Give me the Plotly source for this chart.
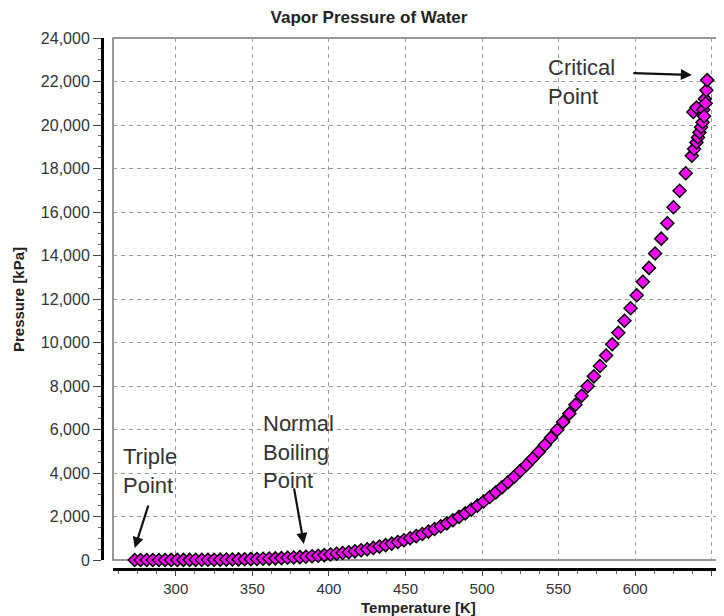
import plotly.graph_objects as go

# Temperature [K] and vapor pressure [kPa]
temperature_k = [
    273.16, 277, 281, 285, 289, 293, 297, 301, 305, 309, 313, 317, 321, 325, 329,
    333, 337, 341, 345, 349, 353, 357, 361, 365, 369, 373, 377, 381, 385, 389,
    393, 397, 401, 405, 409, 413, 417, 421, 425, 429, 433, 437, 441, 445, 449,
    453, 457, 461, 465, 469, 473, 477, 481, 485, 489, 493, 497, 501, 505, 509,
    513, 517, 521, 525, 529, 533, 537, 541, 545, 549, 553, 557, 561, 565, 569,
    573, 577, 581, 585, 589, 593, 597, 601, 605, 609, 613, 617, 621, 625, 629,
    633, 637, 638, 638.5, 640, 640, 641, 642, 643, 644, 644.5, 645, 645.5, 646, 646.5, 647,
]
pressure_kpa = [
    0.6, 0.8, 1.1, 1.4, 1.8, 2.3, 3.0, 3.8, 4.7, 5.9, 7.4, 9.1, 11.2, 13.7, 16.6,
    20.0, 24.0, 28.7, 34.1, 40.3, 47.4, 55.5, 64.7, 75.1, 86.9, 101, 116, 133, 152, 174,
    198, 225, 253, 286, 320, 358, 399, 449, 497, 556, 617, 683, 751, 829, 911,
    1000, 1096, 1196, 1307, 1424, 1550, 1685, 1829, 1983, 2144, 2318, 2500, 2690, 2895, 3110,
    3340, 3580, 3830, 4100, 4370, 4665, 4970, 5290, 5625, 5980, 6350, 6730, 7135, 7550, 7990,
    8445, 8920, 9400, 9920, 10450, 11000, 11575, 12170, 12790, 13430, 14090, 14775, 15480, 16220, 16980,
    17780, 18590, 20600, 18900, 19200, 20800, 19430, 19660, 19900, 20130, 20700, 20400, 21200, 21000, 21600, 22064,
]

x_ticks = [300, 350, 400, 450, 500, 550, 600, 650]
y_ticks = [0, 2000, 4000, 6000, 8000, 10000, 12000, 14000, 16000, 18000, 20000, 22000, 24000]
y_tick_labels = ["0", "2,000", "4,000", "6,000", "8,000", "10,000", "12,000", "14,000",
                 "16,000", "18,000", "20,000", "22,000", "24,000"]

# the page body adds an 8px margin, so the figure is sized to fill the rest of the window
OFF = 8
W, H = 724 - OFF, 616 - OFF
FONT = "Liberation Sans"
TXT = "#333333"


def px_x(p):
    return (p - OFF) / W


def px_y(p):
    return 1 - (p - OFF) / H


fig = go.Figure()
fig.add_trace(go.Scatter(
    x=temperature_k, y=pressure_kpa, mode="markers",
    marker=dict(symbol="diamond", size=10, color="#ff00ff",
                line=dict(color="black", width=1.5)),
    showlegend=False, hoverinfo="skip", cliponaxis=False,
))

# plot box
fig.add_shape(type="rect", xref="x domain", yref="y domain", x0=0, x1=1.02, y0=0, y1=1,
              line=dict(color="#777777", width=1.5), layer="below")

annotations = [
    # axis titles
    dict(text="<b>Temperature [K]</b>", x=px_x(418), y=px_y(607), xref="paper", yref="paper",
         showarrow=False, font=dict(family=FONT, size=15, color="#222"), xanchor="center", yanchor="middle"),
    dict(text="<b>Pressure [kPa]</b>", x=px_x(18), y=px_y(300), xref="paper", yref="paper",
         showarrow=False, textangle=-90, font=dict(family=FONT, size=15, color="#222"),
         xanchor="center", yanchor="middle"),
    # labels
    dict(text="Critical<br>Point", x=px_x(546), y=px_y(82), xref="paper", yref="paper",
         showarrow=False, align="left", xanchor="left", yanchor="middle",
         font=dict(family=FONT, size=22, color=TXT)),
    dict(text="Triple<br>Point", x=px_x(121), y=px_y(471), xref="paper", yref="paper",
         showarrow=False, align="left", xanchor="left", yanchor="middle",
         font=dict(family=FONT, size=22, color=TXT)),
    dict(text="Normal<br>Boiling<br>Point", x=px_x(261), y=px_y(452), xref="paper", yref="paper",
         showarrow=False, align="left", xanchor="left", yanchor="middle",
         font=dict(family=FONT, size=22, color=TXT)),
    # arrows
    dict(text="", x=637, y=22300, xref="x", yref="y", ax=-60, ay=-2, showarrow=True,
         arrowhead=2, arrowsize=1, arrowwidth=2.2, arrowcolor="#111"),
    dict(text="", x=273.2, y=550, xref="x", yref="y", ax=14, ay=-44, showarrow=True,
         arrowhead=2, arrowsize=1, arrowwidth=2.2, arrowcolor="#111"),
    dict(text="", x=383.6, y=740, xref="x", yref="y", ax=-10, ay=-57, showarrow=True,
         arrowhead=2, arrowsize=1, arrowwidth=2.2, arrowcolor="#111"),
]

fig.update_layout(
    width=W, height=H,
    margin=dict(l=0, r=0, t=0, b=0, autoexpand=False),
    paper_bgcolor="white", plot_bgcolor="white",
    font=dict(family=FONT, color=TXT),
    title=dict(text="<b>Vapor Pressure of Water</b>", x=px_x(369), y=px_y(17),
               xanchor="center", yanchor="middle", xref="paper", yref="paper",
               font=dict(family=FONT, size=17, color="#222")),
    xaxis=dict(
        domain=[px_x(113), 1], range=[259, 658], anchor="free", position=px_y(569),
        automargin=False,
        showline=True, linecolor="black", linewidth=3,
        tickmode="array", tickvals=x_ticks, ticktext=[str(v) for v in x_ticks],
        ticks="outside", ticklen=5, tickwidth=1, tickcolor="#444",
        minor=dict(dtick=12.5, tick0=300, ticks="outside", ticklen=3, tickcolor="#666", showgrid=False),
        tickfont=dict(family=FONT, size=15, color=TXT),
        showgrid=True, gridcolor="#9a9a9a", gridwidth=1, griddash="4px,4px",
        zeroline=False,
    ),
    yaxis=dict(
        domain=[px_y(560), px_y(38)], range=[0, 24000], anchor="free", position=px_x(102),
        automargin=False,
        showline=True, linecolor="black", linewidth=3,
        tickmode="array", tickvals=y_ticks, ticktext=y_tick_labels,
        ticks="outside", ticklen=8, tickwidth=1, tickcolor="#444",
        minor=dict(dtick=500, tick0=0, ticks="outside", ticklen=3, tickcolor="#666", showgrid=False),
        tickfont=dict(family=FONT, size=16, color=TXT),
        showgrid=True, gridcolor="#9a9a9a", gridwidth=1, griddash="4px,4px",
        zeroline=False,
    ),
    annotations=annotations,
)

fig.write_html("out.html")
